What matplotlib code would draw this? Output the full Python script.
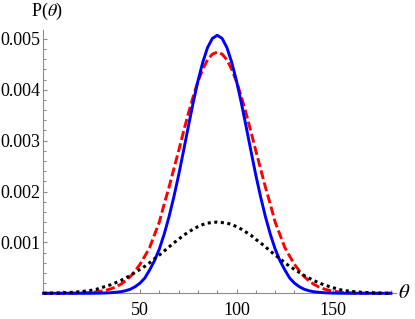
import numpy as np
import matplotlib
matplotlib.use("Agg")
import matplotlib.pyplot as plt
from matplotlib.ticker import MultipleLocator, FormatStrFormatter

plt.rcParams["font.family"] = ["Liberation Serif", "DejaVu Serif"]
plt.rcParams["mathtext.fontset"] = "stix"

# values, every 2.5 degrees from 0 to 180
theta = np.arange(0, 180.1, 2.5)

# half of each curve, from the peak (90 deg) outwards to 0 / 180 deg;
# the curves are symmetric about 90 deg
p_blue_half = [0.00507, 0.00501, 0.00483, 0.00454, 0.00417, 0.00374,
               0.00327, 0.00279, 0.00232, 0.00189, 0.00150, 0.00116,
               0.00087, 0.00064, 0.00046, 0.00030, 0.00020, 0.00013,
               0.00008, 0.00005, 0.00003, 0.00002, 0.000012, 0.000007,
               0.000004, 0.000002, 0.0, 0.0, 0.0, 0.0, 0.0, 0.0,
               0.0, 0.0, 0.0, 0.0, 0.0]
p_red_half = [0.00474, 0.00470, 0.00459, 0.00440, 0.00416, 0.00386,
              0.00353, 0.00317, 0.00280, 0.00244, 0.00208, 0.00175,
              0.00140, 0.00115, 0.00090, 0.00073, 0.00057, 0.00044,
              0.00033, 0.000244, 0.000177, 0.000126, 0.000089, 0.000061,
              0.000042, 0.000028, 0.000018, 0.0000115, 0.0000075,
              0.0000045, 0.000003, 0.0, 0.0, 0.0, 0.0, 0.0, 0.0]
p_black_half = [0.00140, 0.00139, 0.00138, 0.00135, 0.00131, 0.00126,
                0.00120, 0.00114, 0.00106, 0.00099, 0.00091, 0.00083,
                0.00075, 0.00068, 0.00060, 0.00053, 0.00047, 0.00041,
                0.00035, 0.00030, 0.00025, 0.00021, 0.00017, 0.00014,
                0.00011, 0.00008, 0.00006, 0.000047, 0.000035, 0.000027,
                0.00002, 0.000015, 0.00001, 0.000007, 0.000005, 0.000002,
                0.0]


def full(half):
    half = list(half)
    return np.array(half[:0:-1] + half)


p_blue = full(p_blue_half)
p_red = full(p_red_half)
p_black = full(p_black_half)

fig = plt.figure(figsize=(4.15, 3.19), dpi=100)
ax = fig.add_axes([0.1048, 0.0806, 0.8494, 0.8263])

ax.plot(theta, p_red, color="#ff0000", lw=2.1, dashes=(3.1, 1.2),
        clip_on=False, zorder=3)
ax.plot(theta, p_blue, color="#0000ff", lw=2.1, solid_joinstyle="round",
        clip_on=False, zorder=4)
ax.plot(theta, p_black, color="black", lw=2.2, dashes=(1.0, 1.15),
        dash_capstyle="butt", clip_on=False, zorder=5)

ax.set_xlim(0, 182.6)
ax.set_ylim(0, 0.00518)

for s in ("top", "right"):
    ax.spines[s].set_visible(False)
for s in ("left", "bottom"):
    ax.spines[s].set_color("0.55")
    ax.spines[s].set_linewidth(0.8)

ax.set_xticks([50, 100, 150])
ax.xaxis.set_minor_locator(MultipleLocator(10))
ax.set_yticks([0.001, 0.002, 0.003, 0.004, 0.005])
ax.yaxis.set_minor_locator(MultipleLocator(0.0002))
ax.yaxis.set_major_formatter(FormatStrFormatter("%.3f"))

ax.tick_params(which="both", direction="in", color="0.55", width=0.8,
               labelsize=13)
ax.tick_params(which="major", length=3.2)
ax.tick_params(which="minor", length=2.0)
ax.tick_params(axis="x", pad=6)
ax.tick_params(axis="y", pad=2.5)

fig.text(0.075, 0.965, r"P($\theta$)", fontsize=13, ha="left", va="center")
fig.text(0.975, 0.08, r"$\theta$", fontsize=15, ha="center", va="center")

fig.savefig("out.png", dpi=100)
